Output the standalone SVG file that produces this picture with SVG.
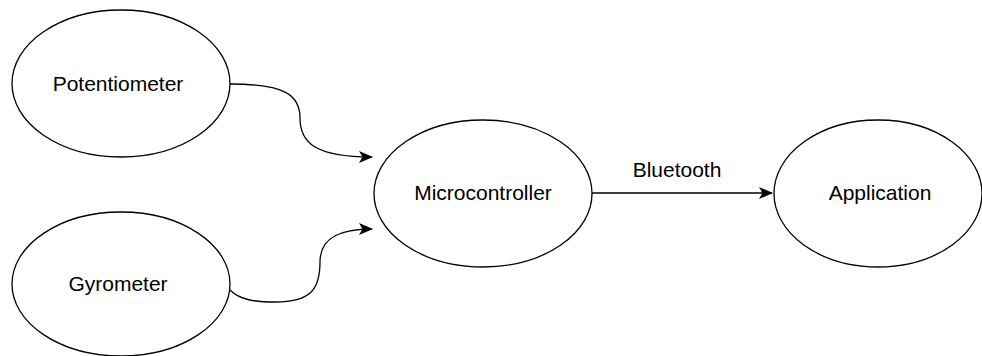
<svg xmlns="http://www.w3.org/2000/svg" width="982" height="356" viewBox="0 0 982 356">
  <style>
    .node ellipse { fill: #ffffff; stroke: #000000; stroke-width: 1.3; }
    .node text, .label { font-family: "Liberation Sans", Arial, sans-serif; font-size: 21px; fill: #000000; text-anchor: middle; }
    .edge { fill: none; stroke: #000000; stroke-width: 1.3; }
  </style>
  <defs>
    <marker id="arrow" viewBox="0 0 14 12" refX="13" refY="6" markerWidth="14" markerHeight="12" markerUnits="userSpaceOnUse" orient="auto">
      <path d="M0,0 L14,6 L0,12 L3.5,6 Z" fill="#000000"/>
    </marker>
  </defs>
  <rect width="982" height="356" fill="#ffffff"/>
  <g id="connectors">
    <path class="edge" d="M230,84 C285,84 300,95 300,118 C300,142 314,157 372,157" marker-end="url(#arrow)"/>
    <path class="edge" d="M230,290 C240,300 255,302 275,302 C310,302 320,290 320,262 C320,240 336,229 372,229" marker-end="url(#arrow)"/>
    <path class="edge" d="M592,193 L772,193" marker-end="url(#arrow)"/>
    <text class="label" x="677" y="176.5">Bluetooth</text>
  </g>
  <g id="potentiometer" class="node">
    <ellipse cx="121" cy="83.5" rx="109" ry="73.5"/>
    <text x="118" y="91">Potentiometer</text>
  </g>
  <g id="gyrometer" class="node">
    <ellipse cx="121" cy="284" rx="109" ry="72"/>
    <text x="118" y="290.5">Gyrometer</text>
  </g>
  <g id="microcontroller" class="node">
    <ellipse cx="483" cy="193.5" rx="109" ry="73.5"/>
    <text x="483" y="200">Microcontroller</text>
  </g>
  <g id="application" class="node">
    <ellipse cx="878" cy="193.5" rx="104" ry="73.5"/>
    <text x="880" y="200">Application</text>
  </g>
</svg>
